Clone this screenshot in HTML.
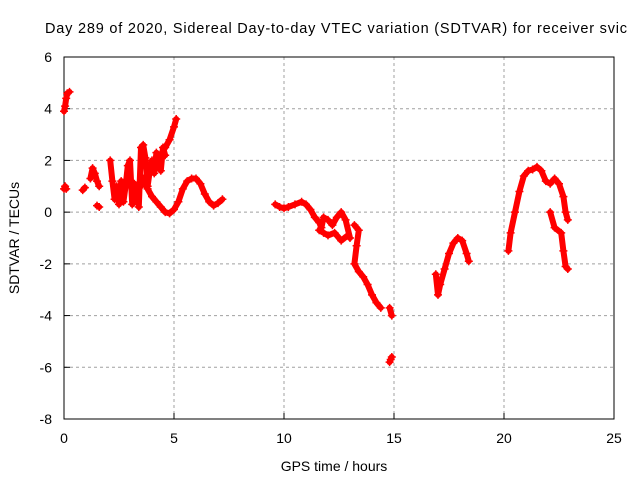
<!DOCTYPE html>
<html><head><meta charset="utf-8"><style>
body{margin:0;background:#fff;}
svg{display:block;font-family:"Liberation Sans",Arial,sans-serif;}
</style></head><body>
<svg id="chart" width="640" height="480">
<text x="45" y="33" font-size="14.5" textLength="582" lengthAdjust="spacing">Day 289 of 2020, Sidereal Day-to-day VTEC variation (SDTVAR) for receiver svic</text>
<text x="334" y="471" font-size="14" text-anchor="middle">GPS time / hours</text>
<text transform="translate(19,238) rotate(-90)" font-size="14" text-anchor="middle">SDTVAR / TECUs</text>
<g id="grid"></g><g id="axes"></g><g id="marks"></g>
</svg>
<script>
const xTicks=[0,5,10,15,20,25];
const yTicks=[-8,-6,-4,-2,0,2,4,6];
const seriesSegments=[
 [[0.0,0.9],[0.05,1.0],[0.1,0.9]],
 [[0.0,3.9],[0.05,4.1],[0.1,4.4],[0.15,4.6],[0.25,4.65]],
 [[0.85,0.85],[0.95,0.95]],
 [[1.2,1.3],[1.3,1.7],[1.4,1.5],[1.5,1.2],[1.6,1.0]],
 [[1.5,0.25],[1.6,0.2]],
 [[2.1,2.0],[2.2,1.2],[2.3,0.5],[2.4,1.0],[2.5,0.3],[2.6,1.2],[2.7,0.4],[2.8,1.0],[2.9,1.8],[3.0,2.0],[3.1,0.3],[3.2,1.1],[3.3,0.8],[3.4,0.2],[3.5,2.5],[3.6,2.6],[3.7,2.1],[3.8,1.0],[3.9,1.6],[4.0,2.0],[4.1,1.5],[4.2,2.3],[4.3,2.0],[4.4,1.6],[4.5,2.5],[4.6,2.2]],
 [[3.5,1.0],[3.8,1.5],[4.0,1.8],[4.3,2.1],[4.6,2.5],[4.8,2.8],[5.0,3.3],[5.1,3.6]],
 [[3.6,1.3],[3.8,0.9],[4.0,0.6],[4.2,0.4],[4.4,0.2],[4.6,0.0],[4.8,-0.05],[5.0,0.1],[5.2,0.4],[5.4,0.9],[5.6,1.2],[5.8,1.3],[6.0,1.3],[6.2,1.1],[6.4,0.7],[6.6,0.4],[6.8,0.25],[7.0,0.35],[7.2,0.5]],
 [[9.6,0.3],[9.8,0.2],[10.0,0.15],[10.2,0.2],[10.5,0.3],[10.8,0.4],[11.0,0.3],[11.2,0.1],[11.4,-0.2],[11.6,-0.4],[11.7,-0.6],[11.8,-0.2],[12.0,-0.3],[12.2,-0.5],[12.4,-0.2],[12.6,0.0],[12.8,-0.3],[13.0,-1.0],[12.9,-0.9],[12.6,-1.1],[12.3,-0.8],[12.0,-0.9],[11.8,-0.8],[11.6,-0.7]],
 [[13.2,-0.5],[13.4,-0.7],[13.3,-1.3],[13.2,-2.0],[13.4,-2.3],[13.6,-2.5],[13.8,-2.8],[14.0,-3.2],[14.2,-3.5],[14.4,-3.7]],
 [[14.8,-3.7],[14.9,-4.0]],
 [[14.8,-5.8],[14.85,-5.7],[14.9,-5.6]],
 [[16.9,-2.4],[17.0,-3.2],[17.1,-2.8],[17.3,-2.2],[17.5,-1.6],[17.7,-1.2],[17.9,-1.0],[18.1,-1.1],[18.3,-1.6],[18.4,-1.9]],
 [[20.2,-1.5],[20.3,-0.8],[20.5,0.0],[20.7,0.8],[20.9,1.4],[21.1,1.6],[21.3,1.65],[21.5,1.75],[21.7,1.6],[21.9,1.2],[22.1,1.1],[22.3,1.3],[22.5,1.1],[22.7,0.6],[22.8,0.0],[22.9,-0.3]],
 [[22.1,0.0],[22.3,-0.6],[22.6,-0.8],[22.7,-1.5],[22.8,-2.1],[22.9,-2.2]]
];
const L=64,R=614,T=57,B=419,xMin=0,xMax=25,yMin=-8,yMax=6;
const X=v=>L+(v-xMin)/(xMax-xMin)*(R-L);
const Y=v=>B-(v-yMin)/(yMax-yMin)*(B-T);
const NS='http://www.w3.org/2000/svg';
function mk(tag,attrs,parent){const e=document.createElementNS(NS,tag);for(const k in attrs)e.setAttribute(k,attrs[k]);parent.appendChild(e);return e;}
const grid=document.getElementById('grid'),axes=document.getElementById('axes'),marks=document.getElementById('marks');
xTicks.forEach(t=>{
 if(t>xMin&&t<xMax){const g=mk('line',{x1:X(t),x2:X(t),y1:T,y2:B,stroke:'#a0a0a0','stroke-dasharray':'3,3'},grid);
 
 }
 const tk=mk('line',{x1:X(t),x2:X(t),y1:B,y2:B-6,stroke:'#000'},axes);
 
 
 const tx=mk('text',{x:X(t),y:B+24,'font-size':14,'text-anchor':'middle'},axes);tx.textContent=t;
 
 
});
yTicks.forEach(t=>{
 if(t>yMin&&t<yMax){const g=mk('line',{x1:L,x2:R,y1:Y(t),y2:Y(t),stroke:'#a0a0a0','stroke-dasharray':'3,3'},grid);
 
 }
 const tk=mk('line',{x1:L,x2:L+6,y1:Y(t),y2:Y(t),stroke:'#000'},axes);
 
 
 const tx=mk('text',{x:L-12,y:Y(t)+5,'font-size':14,'text-anchor':'end'},axes);tx.textContent=t;
 
 
});
const frame=mk('rect',{x:L,y:T,width:R-L,height:B-T,fill:'none',stroke:'#000'},axes);


seriesSegments.forEach(seg=>{
 const pl=mk('polyline',{points:seg.map(p=>X(p[0])+','+Y(p[1])).join(' '),fill:'none',stroke:'#ff0000','stroke-width':6,'stroke-linejoin':'round','stroke-linecap':'round'},marks);
 
 
 seg.forEach(p=>{
  const x=X(p[0]),y=Y(p[1]);
  const m=mk('path',{d:`M${x-4},${y}H${x+4}M${x},${y-4}V${y+4}`,stroke:'#ff0000','stroke-width':1.5},marks);
  
  
 });
});
</script>
</body></html>
